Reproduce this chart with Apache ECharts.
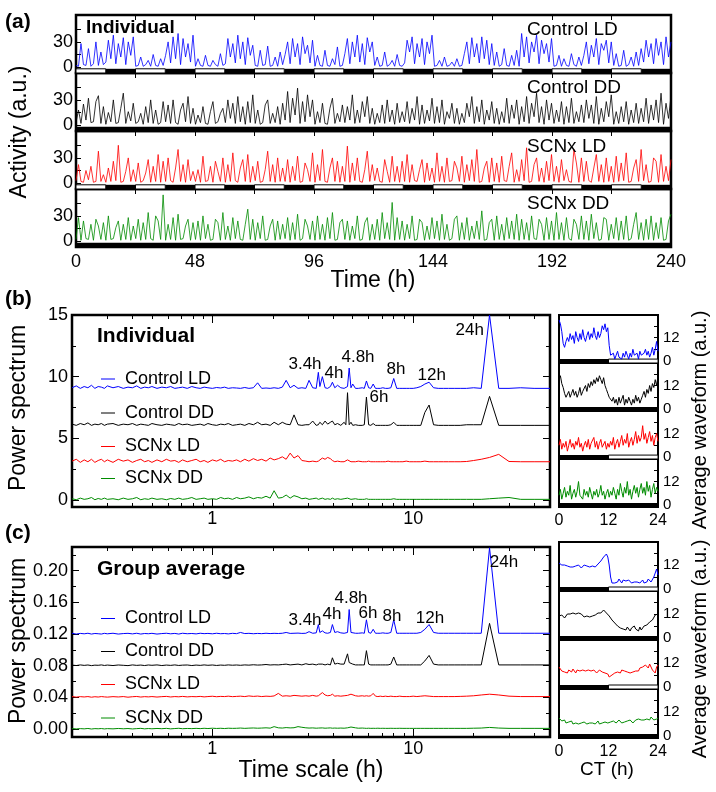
<!DOCTYPE html>
<html>
<head>
<meta charset="utf-8">
<script src="https://cdn.jsdelivr.net/npm/echarts@6/dist/echarts.min.js"></script>
<style>
  html, body { margin: 0; padding: 0; background: #fff; }
  #chart { width: 716px; height: 792px; }
</style>
</head>
<body>
<div id="chart"></div>
<script>
var FONT = '"Liberation Sans", Arial, sans-serif';
var COLORS = ['#0000ff', '#000000', '#ff0000', '#008c00'];
var NAMES = ['Control LD', 'Control DD', 'SCNx LD', 'SCNx DD'];

// ---- (a) activity, one value per hour, 0-240 h
var actCtrlLD = [
  2, 1, 28, 3, 2, 22, 1, 4, 30, 2, 18, 3,
  6, 32, 10, 38, 4, 28, 12, 35, 3, 30, 14, 36,
  1, 2, 12, 1, 3, 8, 1, 15, 2, 1, 10, 2,
  14, 30, 5, 36, 10, 40, 3, 34, 12, 28, 6, 38,
  1, 10, 2, 1, 14, 2, 1, 8, 3, 1, 16, 2,
  4, 34, 12, 28, 5, 38, 10, 30, 3, 35, 14, 26,
  2, 1, 20, 2, 3, 25, 1, 2, 12, 1, 18, 3,
  15, 30, 4, 34, 12, 28, 3, 36, 16, 26, 5, 32,
  1, 14, 2, 1, 20, 2, 1, 10, 3, 24, 1, 2,
  16, 34, 4, 30, 12, 38, 6, 28, 3, 35, 18, 30,
  2, 12, 1, 2, 18, 1, 3, 8, 1, 15, 2, 1,
  5, 32, 18, 36, 4, 28, 12, 34, 3, 30, 16, 38,
  1, 2, 8, 1, 12, 1, 2, 6, 1, 10, 1, 2,
  16, 30, 4, 35, 12, 28, 5, 36, 10, 32, 3, 28,
  2, 18, 1, 3, 22, 2, 1, 14, 2, 20, 1, 40,
  12, 36, 5, 30, 18, 38, 4, 32, 16, 28, 6, 34,
  1, 2, 14, 1, 10, 2, 1, 16, 3, 1, 12, 2,
  14, 30, 4, 26, 12, 34, 3, 28, 20, 32, 5, 30,
  2, 16, 1, 2, 20, 1, 3, 12, 1, 18, 2, 22,
  6, 32, 12, 28, 4, 34, 14, 30, 3, 36, 12, 30
];
var actCtrlDD = [
  3, 18, 2, 25, 6, 32, 3, 4, 28, 35, 2, 22,
  1, 15, 4, 30, 2, 3, 20, 38, 2, 16, 5, 26,
  2, 4, 14, 1, 22, 3, 30, 2, 18, 1, 3, 28,
  4, 24, 2, 30, 3, 1, 18, 26, 4, 34, 2, 20,
  1, 12, 3, 22, 2, 1, 16, 28, 2, 4, 14, 20,
  3, 30, 8, 26, 2, 34, 4, 22, 1, 28, 3, 36,
  2, 18, 1, 3, 24, 30, 2, 14, 3, 22, 1, 26,
  6, 40, 3, 32, 12, 44, 2, 28, 4, 36, 10, 30,
  1, 16, 3, 26, 2, 1, 20, 32, 2, 14, 4, 24,
  3, 22, 6, 36, 2, 18, 3, 28, 10, 34, 2, 20,
  1, 14, 3, 24, 2, 30, 4, 18, 1, 26, 3, 16,
  4, 28, 2, 20, 6, 34, 1, 24, 2, 18, 5, 32,
  2, 22, 3, 30, 1, 16, 8, 26, 2, 20, 1, 14,
  3, 26, 10, 34, 2, 22, 4, 30, 1, 18, 6, 28,
  2, 20, 1, 16, 3, 32, 2, 24, 8, 30, 1, 22,
  4, 34, 2, 26, 10, 38, 3, 22, 1, 30, 6, 26,
  2, 18, 4, 28, 1, 22, 3, 32, 2, 16, 4, 24,
  3, 30, 8, 24, 2, 34, 1, 20, 4, 28, 10, 36,
  1, 16, 2, 22, 4, 28, 1, 18, 3, 26, 2, 20,
  4, 32, 2, 24, 6, 30, 3, 38, 1, 26, 8, 34
];
var actScnLD = [
  3, 22, 2, 1, 15, 4, 20, 1, 2, 38, 2, 10,
  1, 18, 2, 26, 3, 45, 1, 2, 14, 30, 2, 16,
  2, 24, 1, 3, 12, 28, 1, 20, 2, 34, 1, 26,
  2, 30, 3, 1, 18, 40, 2, 22, 1, 28, 3, 14,
  2, 16, 1, 32, 2, 3, 20, 1, 26, 14, 2, 30,
  1, 22, 2, 36, 3, 1, 18, 28, 2, 34, 1, 20,
  3, 26, 1, 2, 16, 38, 2, 22, 1, 30, 2, 18,
  2, 28, 1, 20, 3, 32, 1, 2, 24, 16, 2, 36,
  1, 22, 3, 40, 2, 1, 18, 30, 2, 26, 1, 20,
  2, 44, 1, 24, 3, 30, 2, 1, 16, 38, 2, 22,
  3, 18, 2, 1, 28, 14, 1, 32, 2, 20, 1, 26,
  2, 34, 1, 22, 3, 2, 16, 28, 1, 24, 3, 18,
  1, 36, 2, 20, 1, 30, 2, 3, 26, 18, 2, 32,
  1, 22, 3, 28, 2, 40, 1, 2, 18, 26, 1, 30,
  2, 24, 1, 32, 3, 2, 20, 36, 1, 16, 2, 28,
  3, 42, 1, 2, 22, 30, 2, 18, 1, 26, 3, 34,
  2, 20, 1, 28, 3, 16, 2, 1, 40, 24, 1, 30,
  2, 26, 3, 1, 18, 34, 2, 22, 1, 30, 2, 20,
  1, 32, 2, 24, 3, 36, 1, 2, 18, 28, 2, 40,
  3, 22, 1, 2, 30, 26, 1, 34, 2, 20, 3, 28
];
var actScnDD = [
  2, 28, 1, 24, 3, 2, 20, 1, 26, 18, 2, 22,
  1, 30, 2, 3, 16, 24, 1, 20, 2, 28, 1, 18,
  3, 26, 1, 22, 2, 34, 3, 1, 30, 24, 2, 55,
  1, 20, 2, 28, 1, 32, 2, 3, 18, 26, 1, 22,
  2, 24, 1, 30, 3, 20, 1, 2, 26, 22, 1, 34,
  2, 18, 1, 28, 3, 24, 2, 1, 20, 38, 2, 26,
  1, 22, 3, 30, 1, 2, 18, 26, 1, 24, 2, 20,
  3, 28, 1, 22, 2, 32, 1, 3, 26, 18, 2, 24,
  1, 30, 2, 20, 1, 28, 3, 34, 1, 2, 22, 26,
  2, 24, 1, 18, 3, 30, 1, 2, 22, 28, 1, 20,
  2, 26, 1, 34, 3, 22, 2, 46, 1, 28, 2, 24,
  1, 20, 3, 30, 1, 2, 26, 22, 1, 18, 2, 28,
  3, 24, 1, 32, 2, 20, 1, 3, 26, 30, 1, 22,
  2, 28, 1, 18, 3, 24, 2, 36, 1, 2, 22, 26,
  1, 30, 2, 20, 1, 28, 3, 24, 2, 32, 1, 26,
  2, 22, 1, 30, 3, 2, 26, 20, 1, 28, 2, 24,
  1, 34, 2, 22, 1, 28, 3, 1, 26, 20, 2, 30,
  2, 24, 1, 32, 3, 22, 1, 2, 28, 26, 1, 20,
  3, 28, 1, 24, 2, 30, 1, 3, 20, 34, 2, 22,
  1, 26, 2, 30, 1, 22, 3, 28, 1, 2, 24, 32
];
var timeTicks = [0, 24, 48, 72, 96, 120, 144, 168, 192, 216, 240];
var timeLabels = [0, 48, 96, 144, 192, 240];
var actTicks = [0, 15, 30, 45];
var actLabels = [0, 30];
var darkLD = [[12, 24], [36, 48], [60, 72], [84, 96], [108, 120], [132, 144], [156, 168], [180, 192], [204, 216], [228, 240]];
var lightLD = [[0, 12], [24, 36], [48, 60], [72, 84], [96, 108], [120, 132], [144, 156], [168, 180], [192, 204], [216, 228]];

// ---- (b), (c) power spectra, values above each trace's offset
var periods = [
  0.2, 0.21, 0.22, 0.23, 0.24, 0.25, 0.26, 0.27, 0.28, 0.29,
  0.3, 0.32, 0.34, 0.36, 0.38, 0.4, 0.42, 0.44, 0.46, 0.48,
  0.5, 0.53, 0.56, 0.59, 0.62, 0.65, 0.68, 0.71, 0.75, 0.79,
  0.83, 0.87, 0.91, 0.95, 1.0, 1.05, 1.1, 1.15, 1.2, 1.26,
  1.32, 1.38, 1.45, 1.52, 1.6, 1.68, 1.76, 1.85, 1.94, 2.03,
  2.13, 2.23, 2.33, 2.44, 2.55, 2.67, 2.79, 2.92, 3.03, 3.16,
  3.29, 3.37, 3.43, 3.53, 3.64, 3.75, 3.87, 3.96, 4.07, 4.2,
  4.36, 4.53, 4.62, 4.71, 4.8, 4.9, 5.0, 5.16, 5.33, 5.58,
  5.71, 5.85, 6.0, 6.15, 6.32, 6.49, 6.67, 6.86, 7.06, 7.27,
  7.5, 7.74, 8.0, 8.28, 8.57, 8.89, 9.23, 9.6, 10.0, 10.43,
  10.91, 11.43, 12.0, 12.63, 13.33, 14.12, 15.0, 16.0, 17.14, 18.46,
  20.0, 21.82, 24.0, 26.67, 30.0, 34.29, 40.0, 48.0
];
var indCtrlLD = [
  0.1, 0.25, 0.05, 0.2, 0.1, 0.3, 0.05, 0.2, 0.15, 0.05,
  0.25, 0.1, 0.2, 0.05, 0.15, 0.1, 0.25, 0.05, 0.15, 0.1,
  0.2, 0.05, 0.15, 0.1, 0.2, 0.05, 0.1, 0.15, 0.05, 0.2,
  0.1, 0.05, 0.15, 0.1, 0.05, 0.12, 0.08, 0.15, 0.05, 0.1,
  0.08, 0.05, 0.12, 0.05, 0.1, 0.5, 0.05, 0.08, 0.05, 0.1,
  0.05, 0.15, 0.7, 0.1, 0.3, 0.05, 0.1, 0.05, 0.7, 0.1,
  0.05, 1.35, 0.2, 1.0, 0.1, 0.05, 0.2, 0.55, 0.1, 0.3,
  0.1, 0.05, 0.1, 0.2, 1.7, 0.1, 0.4, 0.05, 0.05, 0.1,
  0.05, 0.65, 0.1, 0.05, 0.4, 0.05, 0.05, 0.05, 0.1, 0.05,
  0.05, 0.1, 0.85, 0.05, 0.05, 0.05, 0.05, 0.05, 0.05, 0.1,
  0.2, 0.4, 0.55, 0.1, 0.05, 0.05, 0.05, 0.05, 0.05, 0.05,
  0.1, 0.05, 6.0, 0.05, 0.05, 0.1, 0.05, 0.05
];
var indCtrlDD = [
  0.15, 0.05, 0.2, 0.1, 0.25, 0.05, 0.15, 0.1, 0.2, 0.05,
  0.15, 0.2, 0.05, 0.15, 0.1, 0.2, 0.05, 0.15, 0.1, 0.05,
  0.2, 0.1, 0.05, 0.15, 0.1, 0.05, 0.2, 0.1, 0.15, 0.05,
  0.1, 0.15, 0.05, 0.2, 0.1, 0.05, 0.15, 0.1, 0.2, 0.05,
  0.1, 0.15, 0.05, 0.2, 0.1, 0.3, 0.1, 0.15, 0.05, 0.3,
  0.1, 0.3, 0.15, 0.1, 0.9, 0.1, 0.05, 0.1, 0.1, 0.4,
  0.05, 0.1, 0.3, 0.1, 0.4, 0.15, 0.3, 0.4, 0.1, 0.2,
  0.05, 0.3, 0.1, 2.7, 0.1, 0.3, 0.05, 0.1, 0.05, 0.05,
  0.1, 2.35, 0.1, 0.05, 0.2, 0.05, 0.05, 0.05, 0.05, 0.05,
  0.05, 0.1, 0.3, 0.05, 0.05, 0.05, 0.05, 0.05, 0.05, 0.05,
  0.05, 1.1, 1.7, 0.1, 0.05, 0.05, 0.05, 0.05, 0.05, 0.1,
  0.1, 0.1, 2.4, 0.05, 0.05, 0.05, 0.05, 0.05
];
var indScnLD = [
  0.15, 0.3, 0.05, 0.25, 0.1, 0.3, 0.05, 0.2, 0.3, 0.1,
  0.25, 0.05, 0.3, 0.15, 0.25, 0.05, 0.2, 0.3, 0.1, 0.2,
  0.05, 0.25, 0.1, 0.3, 0.15, 0.2, 0.05, 0.25, 0.1, 0.2,
  0.3, 0.1, 0.2, 0.05, 0.25, 0.15, 0.3, 0.1, 0.2, 0.15,
  0.25, 0.1, 0.3, 0.15, 0.35, 0.2, 0.3, 0.15, 0.4, 0.25,
  0.35, 0.5, 0.3, 0.8, 0.4, 0.6, 0.2, 0.15, 0.1, 0.15,
  0.1, 0.15, 0.1, 0.4, 0.3, 0.45, 0.35, 0.2, 0.1, 0.15,
  0.1, 0.1, 0.15, 0.25, 0.2, 0.1, 0.1, 0.1, 0.15, 0.1,
  0.1, 0.1, 0.15, 0.1, 0.1, 0.1, 0.1, 0.1, 0.1, 0.1,
  0.15, 0.1, 0.1, 0.1, 0.1, 0.1, 0.15, 0.1, 0.1, 0.1,
  0.1, 0.15, 0.1, 0.1, 0.1, 0.1, 0.1, 0.1, 0.1, 0.12,
  0.2, 0.3, 0.45, 0.7, 0.12, 0.1, 0.1, 0.1
];
var indScnDD = [
  0.1, 0.02, 0.15, 0.05, 0.1, 0.2, 0.02, 0.12, 0.05, 0.15,
  0.05, 0.1, 0.02, 0.15, 0.05, 0.1, 0.2, 0.02, 0.1, 0.05,
  0.15, 0.05, 0.1, 0.02, 0.12, 0.05, 0.15, 0.05, 0.1, 0.2,
  0.05, 0.1, 0.15, 0.05, 0.1, 0.05, 0.2, 0.1, 0.15, 0.05,
  0.2, 0.1, 0.15, 0.25, 0.1, 0.2, 0.15, 0.3, 0.15, 0.75,
  0.15, 0.2, 0.4, 0.15, 0.35, 0.25, 0.1, 0.15, 0.05, 0.1,
  0.15, 0.05, 0.1, 0.15, 0.05, 0.1, 0.05, 0.15, 0.05, 0.1,
  0.05, 0.1, 0.05, 0.15, 0.05, 0.05, 0.05, 0.1, 0.05, 0.05,
  0.05, 0.1, 0.05, 0.05, 0.05, 0.05, 0.05, 0.05, 0.05, 0.05,
  0.05, 0.05, 0.1, 0.05, 0.05, 0.05, 0.05, 0.05, 0.05, 0.05,
  0.05, 0.05, 0.05, 0.05, 0.05, 0.05, 0.05, 0.05, 0.05, 0.05,
  0.05, 0.05, 0.1, 0.15, 0.2, 0.05, 0.05, 0.05
];
var grpCtrlLD = [
  0.001, 0, 0.0008, 0.0003, 0.001, 0, 0.0007, 0.0004, 0, 0.0009,
  0.0003, 0.001, 0, 0.0006, 0.0009, 0.0002, 0.001, 0, 0.0007, 0.0004,
  0.0009, 0, 0.0006, 0.001, 0.0003, 0.0008, 0, 0.001, 0.0004, 0.0007,
  0.0002, 0.001, 0.0005, 0.0008, 0.0003, 0.001, 0.0004, 0.0007, 0.0002, 0.0009,
  0.0005, 0.002, 0.0006, 0.0009, 0.0004, 0.0008, 0.0005, 0.001, 0.0006, 0.0009,
  0.0007, 0.001, 0.002, 0.0008, 0.001, 0.0012, 0.0008, 0.001, 0.003, 0.001,
  0.0015, 0.012, 0.002, 0.004, 0.0015, 0.001, 0.002, 0.012, 0.002, 0.003,
  0.0015, 0.001, 0.0015, 0.002, 0.031, 0.002, 0.003, 0.001, 0.001, 0.0015,
  0.001, 0.018, 0.002, 0.001, 0.006, 0.001, 0.001, 0.001, 0.0015, 0.001,
  0.001, 0.002, 0.018, 0.001, 0.001, 0.001, 0.001, 0.001, 0.001, 0.001,
  0.002, 0.006, 0.012, 0.002, 0.001, 0.001, 0.001, 0.001, 0.001, 0.001,
  0.001, 0.001, 0.109, 0.001, 0.001, 0.001, 0.001, 0.001
];
var grpCtrlDD = [
  0.0008, 0.0002, 0.001, 0.0004, 0.0009, 0.0001, 0.0007, 0.0005, 0.001, 0.0003,
  0.0008, 0.0002, 0.0009, 0.0005, 0.0001, 0.001, 0.0004, 0.0008, 0.0002, 0.0009,
  0.0005, 0.001, 0.0002, 0.0008, 0.0004, 0.001, 0.0003, 0.0007, 0.0009, 0.0002,
  0.0008, 0.0004, 0.001, 0.0005, 0.0009, 0.0003, 0.0008, 0.0005, 0.001, 0.0006,
  0.0009, 0.0005, 0.001, 0.0007, 0.0012, 0.0008, 0.001, 0.0015, 0.0009, 0.0012,
  0.001, 0.0015, 0.002, 0.001, 0.0015, 0.002, 0.001, 0.0025, 0.0015, 0.002,
  0.001, 0.002, 0.001, 0.002, 0.001, 0.002, 0.001, 0.01, 0.002, 0.003,
  0.002, 0.002, 0.003, 0.015, 0.004, 0.002, 0.002, 0.001, 0.001, 0.001,
  0.001, 0.019, 0.002, 0.001, 0.001, 0.001, 0.001, 0.001, 0.001, 0.001,
  0.001, 0.002, 0.011, 0.001, 0.001, 0.001, 0.001, 0.001, 0.001, 0.001,
  0.001, 0.006, 0.013, 0.002, 0.001, 0.001, 0.001, 0.001, 0.001, 0.001,
  0.001, 0.001, 0.0535, 0.001, 0.001, 0.001, 0.001, 0.001
];
var grpScnLD = [
  0.001, 0.0003, 0.0009, 0.0005, 0.001, 0.0002, 0.0008, 0.0004, 0.001, 0.0006,
  0.0003, 0.0009, 0.0005, 0.001, 0.0002, 0.0008, 0.0011, 0.0004, 0.0009, 0.0006,
  0.001, 0.0004, 0.0009, 0.0012, 0.0005, 0.001, 0.0007, 0.0012, 0.0006, 0.001,
  0.0008, 0.0012, 0.0006, 0.001, 0.0014, 0.0008, 0.0012, 0.001, 0.0015, 0.0009,
  0.0012, 0.0015, 0.001, 0.0018, 0.0012, 0.0016, 0.001, 0.0015, 0.0012, 0.0018,
  0.005, 0.0015, 0.002, 0.0015, 0.0025, 0.002, 0.0015, 0.002, 0.0015, 0.0025,
  0.0015, 0.002, 0.0025, 0.006, 0.003, 0.002, 0.0025, 0.004, 0.0015, 0.002,
  0.0015, 0.002, 0.0015, 0.0025, 0.002, 0.004, 0.0015, 0.002, 0.0015, 0.002,
  0.0015, 0.002, 0.0015, 0.002, 0.005, 0.0015, 0.001, 0.0015, 0.001, 0.0015,
  0.001, 0.0015, 0.001, 0.001, 0.0015, 0.001, 0.001, 0.001, 0.0015, 0.001,
  0.0015, 0.002, 0.0015, 0.001, 0.001, 0.001, 0.001, 0.001, 0.0012, 0.0015,
  0.002, 0.003, 0.004, 0.003, 0.0015, 0.001, 0.001, 0.001
];
var grpScnDD = [
  0.0006, 0.0001, 0.0005, 0.0002, 0.0007, 0, 0.0005, 0.0003, 0.0006, 0.0001,
  0.0005, 0.0002, 0.0007, 0.0003, 0.0006, 0.0001, 0.0005, 0.0008, 0.0002, 0.0006,
  0.0003, 0.0007, 0.0004, 0.0008, 0.0002, 0.0006, 0.0009, 0.0004, 0.0007, 0.0005,
  0.0008, 0.0005, 0.0009, 0.0006, 0.001, 0.0007, 0.0009, 0.0006, 0.001, 0.0008,
  0.0009, 0.0012, 0.0008, 0.0011, 0.0013, 0.001, 0.0012, 0.0015, 0.0011, 0.003,
  0.0015, 0.0012, 0.0018, 0.0014, 0.0016, 0.003, 0.0022, 0.0015, 0.0012, 0.0014,
  0.001, 0.0012, 0.001, 0.0014, 0.001, 0.0012, 0.0014, 0.001, 0.0012, 0.001,
  0.0012, 0.001, 0.0012, 0.0015, 0.002, 0.0025, 0.004, 0.0015, 0.001, 0.0012,
  0.001, 0.0008, 0.001, 0.0008, 0.0009, 0.0008, 0.001, 0.0008, 0.0009, 0.0008,
  0.0008, 0.0009, 0.0008, 0.0008, 0.0009, 0.0008, 0.0008, 0.0008, 0.0008, 0.0008,
  0.0008, 0.0008, 0.0008, 0.0008, 0.0008, 0.0008, 0.0008, 0.0008, 0.0008, 0.0008,
  0.001, 0.0012, 0.002, 0.0012, 0.0008, 0.0008, 0.0008, 0.0008
];
var indOffsets = [9, 6, 3, 0];
var grpOffsets = [0.12, 0.08, 0.04, 0];
var periodMajor = [1, 10];
var periodMinor = [0.3, 0.4, 0.5, 0.6, 0.7, 0.8, 0.9, 2, 3, 4, 5, 6, 7, 8, 9, 20, 30, 40];
var indMajor = [0, 5, 10, 15];
var indMinor = [2.5, 7.5, 12.5];
var grpMajor = [0, 0.04, 0.08, 0.12, 0.16, 0.2];
var grpMinor = [0.02, 0.06, 0.1, 0.14, 0.18, 0.22];

// ---- average waveforms over CT 0-24 (72 points each)
var wIndCtrlLD = [21, 19, 15, 9, 7, 10,
  12, 10, 14, 11, 13, 9, 15, 12, 10, 14, 11, 16, 12, 10, 13, 15, 11, 14, 12, 17, 13, 11, 15, 12, 14, 18, 16, 19, 15, 17,
  8,
  3, 2, 4, 1, 3, 5, 2, 3, 1, 4, 2, 5, 3, 1, 4, 2, 6, 3, 2, 4, 1, 5, 3, 2, 4, 6, 3, 5, 2, 4, 7, 3, 6, 10, 5];
var wIndCtrlDD = [15, 17, 13, 11, 8, 6,
  7, 9, 6, 8, 10, 7, 9, 6, 8, 11, 7, 9,
  10, 12, 9, 13, 11, 14, 12,
  15, 13, 16, 14, 17, 15, 13, 16, 12,
  10, 8, 6, 7, 4, 6, 3,
  5, 2, 6, 3, 4, 7, 2, 5, 3, 6, 4, 2, 5, 3, 7, 4, 6, 3, 5,
  7, 9, 6, 10, 8, 12, 9, 13, 11, 15, 12, 17];
var wIndScnLD = [6, 9, 4, 7, 5, 8, 3, 6, 9, 5, 7, 4, 8, 6, 10, 5, 7, 3, 6, 8, 5, 9, 4, 7, 6, 10, 5, 8, 4, 7, 9, 5, 6, 8, 4, 7,
  5, 8, 6, 10, 4, 7, 9, 5, 8, 11, 6, 9, 7, 12, 5, 8, 10, 6, 9, 13, 7, 11, 8, 10, 16, 9, 12, 7, 10, 13, 8, 11, 6, 10, 12, 8];
var wIndScnDD = [5, 8, 3, 6, 9, 4, 7, 5, 10, 3, 6, 8, 4, 7, 12, 5, 6, 3, 8, 5, 7, 4, 9, 6, 3, 7, 5, 8, 4, 6, 10, 5, 7, 3, 6, 8,
  4, 7, 5, 9, 6, 3, 8, 5, 11, 7, 4, 9, 6, 12, 5, 8, 3, 7, 10, 6, 9, 4, 8, 11, 6, 9, 5, 12, 7, 10, 4, 8, 11, 6, 9, 7];
var wGrpCtrlLD = [13, 12.5, 12, 11.5, 12, 11, 11.5, 10.5, 11, 12, 11, 10.5, 11.5, 11, 12, 11, 10.5, 11.5, 12, 11, 11.5, 12.5, 11, 12, 11.5, 10.5, 11, 12,
  12.5, 13, 14, 15, 16, 17, 17.5, 16,
  12, 6, 3, 2, 3,
  4, 3.5, 5, 4, 3, 4.5, 3.5, 4, 3, 4.5, 3.5, 3, 4, 3.5, 2.5, 3.5, 4, 3, 3.5, 4.5, 3, 4, 3.5, 5, 4, 3.5, 4.5,
  6, 8, 10, 7];
var wGrpCtrlDD = [11, 10.5, 11.5, 11, 10, 11, 12, 11.5, 12,
  13, 12.5, 13.5, 12, 13, 12.5, 11.5, 12, 11,
  10.5, 10, 11, 10, 10.5, 11.5, 11, 12, 11.5,
  12, 12.5, 13, 12.5, 13.5, 14, 13.5, 12.5, 12, 11, 10,
  9, 8, 7.5, 7, 6, 6.5, 5, 5.5, 4.5,
  5, 4, 5.5, 4.5, 3.5, 5, 4, 6, 4.5, 5, 3.5, 5.5, 4, 5, 6, 5, 6.5,
  7, 8, 7.5, 9, 10, 11.5, 11, 12];
var wGrpScnLD = [10, 9, 8, 8.5, 7.5, 8, 7, 8.5, 8, 7.5, 9, 8, 7, 8.5, 7.5, 8, 9, 8.5, 7.5, 8, 7, 8.5, 9, 8, 7.5, 8.5, 8, 7, 7.5, 8.5, 8, 7.5, 8, 7, 7.5, 6.5,
  5, 4.5, 6, 5.5, 7, 6.5, 7.5, 8, 7, 8.5, 7.5, 8, 7, 7.5, 8.5, 7, 8, 7.5, 8.5, 8, 9, 8, 9.5, 8.5, 10, 9, 11, 10, 9.5, 11.5, 10, 8.5, 9.5, 7, 10, 11];
var wGrpScnDD = [9, 8, 7.5, 7, 8, 6.5, 7.5, 7, 6.5, 7.5, 6, 7, 6.5, 7.5, 6, 7, 6.5, 5.5, 7, 6.5, 6, 7, 6.5, 5.5, 6.5, 7, 6, 6.5, 7.5, 6, 7, 6.5, 6, 7, 7.5, 6.5,
  6, 7, 6.5, 7.5, 7, 6.5, 7.5, 8, 7, 6.5, 7.5, 7, 8, 7.5, 7, 8, 7.5, 6.5, 7.5, 8, 7, 8.5, 7.5, 8, 9, 8, 7.5, 8.5, 9, 8, 9.5, 8.5, 8, 9, 8.5, 9];
var ctTicks = [12];
var ctLabels = [0, 12, 24];
var waveTicks = [0, 6, 12, 18];
var waveLabels = [0, 12];
var darkCT = [[0, 12]];
var lightCT = [[12, 24]];

var grids = [], xAxes = [], yAxes = [], series = [], graphics = [];

function grid(l, t, w, h, bw) {
  grids.push({ left: l, top: t, width: w, height: h, show: true, borderColor: '#000', borderWidth: bw, backgroundColor: 'rgba(0,0,0,0)' });
  return grids.length - 1;
}

function axis(list, g, pos, o) {
  list.push({
    gridIndex: g, position: pos, type: o.type || 'value', logBase: 10,
    min: o.min, max: o.max,
    axisLine: { show: false, onZero: false },
    splitLine: { show: false },
    axisTick: o.ticks ? { show: true, inside: true, length: o.len || 5, customValues: o.ticks, lineStyle: { color: '#000', width: 1 } } : { show: false },
    axisLabel: o.labels ? {
      show: true, customValues: o.labels, fontSize: o.fs || 17, fontFamily: FONT, color: '#000',
      margin: o.margin == null ? 4 : o.margin, formatter: o.fmt || null
    } : { show: false }
  });
  return list.length - 1;
}

function bars(dark, light, lo, hi) {
  var d = [];
  dark.forEach(function (p) {
    d.push([{ xAxis: p[0], yAxis: lo, itemStyle: { color: '#000', opacity: 1, borderWidth: 0 } }, { xAxis: p[1], yAxis: hi }]);
  });
  light.forEach(function (p) {
    d.push([{ xAxis: p[0], yAxis: lo, itemStyle: { color: '#fff', opacity: 1, borderColor: '#000', borderWidth: 1 } }, { xAxis: p[1], yAxis: hi }]);
  });
  return { silent: true, data: d, itemStyle: { opacity: 1 }, emphasis: { disabled: true } };
}

function txt(x, y, s, o) {
  o = o || {};
  graphics.push({
    type: 'text', x: x, y: y, rotation: o.rot || 0, z: 100, silent: true,
    style: {
      text: s, fill: '#000', font: (o.bold ? 'bold ' : '') + (o.size || 18) + 'px ' + FONT,
      textAlign: o.align || 'left', textVerticalAlign: 'middle', align: o.align || 'left', verticalAlign: 'middle'
    }
  });
}

function line(vals, xi, yi, color, w) {
  return { type: 'line', xAxisIndex: xi, yAxisIndex: yi, data: vals, showSymbol: false, silent: true, clip: true,
    lineStyle: { color: color, width: w }, itemStyle: { color: color } };
}

// (a)
var actAll = [actCtrlLD, actCtrlDD, actScnLD, actScnDD];
var aTops = [15, 73, 131, 189];
actAll.forEach(function (vals, k) {
  var g = grid(76, aTops[k], 595, 58, 2.5);
  var xi = axis(xAxes, g, 'top', { min: 0, max: 240, ticks: timeTicks, len: 5 });
  var yi = axis(yAxes, g, 'left', { min: -7, max: 62, ticks: actTicks, labels: actLabels, len: 5, fs: 18, margin: 3 });
  if (k === 3) axis(xAxes, g, 'bottom', { min: 0, max: 240, labels: timeLabels, fs: 18, margin: 6 });
  var ld = k % 2 === 0;
  var s = line(vals.map(function (v, i) { return [i * 240 / (vals.length - 1), v]; }), xi, yi, COLORS[k], 0.8);
  s.markArea = bars(ld ? darkLD : [[0, 240]], ld ? lightLD : [], -7, -2);
  series.push(s);
});

// (b), (c) spectra
function spectrum(top, h, ymin, ymax, major, minor, fmt, list, offsets) {
  var g = grid(72, top, 478, h, 2.5);
  var lx = { type: 'log', min: 0.2, max: 48 };
  var xb = axis(xAxes, g, 'bottom', Object.assign({ ticks: periodMajor, labels: periodMajor, len: 8, fs: 18, margin: 3 }, lx));
  axis(xAxes, g, 'bottom', Object.assign({ ticks: periodMinor, len: 4 }, lx));
  axis(xAxes, g, 'top', Object.assign({ ticks: periodMajor, len: 8 }, lx));
  axis(xAxes, g, 'top', Object.assign({ ticks: periodMinor, len: 4 }, lx));
  var yl = axis(yAxes, g, 'left', { min: ymin, max: ymax, ticks: major, labels: major, len: 7, fs: 18, margin: 4, fmt: fmt });
  axis(yAxes, g, 'left', { min: ymin, max: ymax, ticks: minor, len: 4 });
  axis(yAxes, g, 'right', { min: ymin, max: ymax, ticks: major, len: 7 });
  axis(yAxes, g, 'right', { min: ymin, max: ymax, ticks: minor, len: 4 });
  list.forEach(function (vals, k) {
    series.push(line(periods.map(function (p, i) { return [p, vals[i] + offsets[k]]; }), xb, yl, COLORS[k], 1));
  });
}
spectrum(315, 192, -0.57, 15, indMajor, indMinor, null, [indCtrlLD, indCtrlDD, indScnLD, indScnDD], indOffsets);
spectrum(547, 190, -0.0101, 0.23, grpMajor, grpMinor, function (v) { return v.toFixed(2); }, [grpCtrlLD, grpCtrlDD, grpScnLD, grpScnDD], grpOffsets);

// waveforms
function waves(tops, h, list) {
  list.forEach(function (vals, k) {
    var g = grid(559, tops[k], 99, h, 2);
    var xi = axis(xAxes, g, 'bottom', { min: 0, max: 24, ticks: ctTicks, len: 4, labels: k === 3 ? ctLabels : null, fs: 16, margin: 6 });
    var yi = axis(yAxes, g, 'right', { min: -1, max: 23.5, ticks: waveTicks, labels: waveLabels, len: 4, fs: 15, margin: 5 });
    var ld = k % 2 === 0;
    var s = line(vals.map(function (v, i) { return [i * 24 / (vals.length - 1), v]; }), xi, yi, COLORS[k], 1);
    s.markArea = bars(ld ? darkCT : [[0, 24]], ld ? lightCT : [], -1, 1);
    series.push(s);
  });
}
waves([315, 363, 411, 459], 48, [wIndCtrlLD, wIndCtrlDD, wIndScnLD, wIndScnDD]);
waves([542, 591, 640, 689], 49, [wGrpCtrlLD, wGrpCtrlDD, wGrpScnLD, wGrpScnDD]);

// texts
var R = Math.PI / 2;
txt(5, 22, '(a)', { bold: true, size: 21 });
txt(20, 132, 'Activity (a.u.)', { size: 23, rot: R, align: 'center' });
txt(373, 281, 'Time (h)', { size: 23, align: 'center' });
txt(86, 28, 'Individual', { bold: true, size: 19 });
[30, 88, 147, 204].forEach(function (y, k) { txt(527, y, NAMES[k], { size: 19 }); });

txt(5, 299, '(b)', { bold: true, size: 21 });
txt(19, 408, 'Power spectrum', { size: 23, rot: R, align: 'center' });
txt(97, 336, 'Individual', { bold: true, size: 21 });
txt(5, 533, '(c)', { bold: true, size: 21 });
txt(19, 641, 'Power spectrum', { size: 23, rot: R, align: 'center' });
txt(97, 569, 'Group average', { bold: true, size: 21 });
txt(311, 771, 'Time scale (h)', { size: 23, align: 'center' });
txt(700, 420, 'Average waveform (a.u.)', { size: 20, rot: R, align: 'center' });
txt(700, 649, 'Average waveform (a.u.)', { size: 20, rot: R, align: 'center' });
txt(607, 770, 'CT (h)', { size: 19, align: 'center' });

function legendRows(ys) {
  ys.forEach(function (y, k) {
    graphics.push({ type: 'line', silent: true, z: 100, shape: { x1: 101, y1: y, x2: 115, y2: y }, style: { stroke: COLORS[k], lineWidth: 1 } });
    txt(125, y, NAMES[k], { size: 18 });
  });
}
legendRows([379, 413, 446.5, 478.5]);
legendRows([618.5, 651.5, 684.5, 718]);

var peakNames = ['3.4h', '4h', '4.8h', '6h', '8h', '12h', '24h'];
var peakPosB = [[305, 364], [334, 373.5], [358, 357.5], [379, 397.5], [396, 369], [431.7, 375], [469.7, 330.5]];
var peakPosC = [[305, 620], [332, 614], [351, 598], [368, 613], [392, 616], [430, 618], [504, 562]];
peakNames.forEach(function (n, i) {
  txt(peakPosB[i][0], peakPosB[i][1], n, { size: 17, align: 'center' });
  txt(peakPosC[i][0], peakPosC[i][1], n, { size: 17, align: 'center' });
});

var chart = echarts.init(document.getElementById('chart'), null, { renderer: 'canvas' });
chart.setOption({
  animation: false,
  backgroundColor: '#fff',
  grid: grids,
  xAxis: xAxes,
  yAxis: yAxes,
  series: series,
  graphic: graphics
});
</script>
</body>
</html>
